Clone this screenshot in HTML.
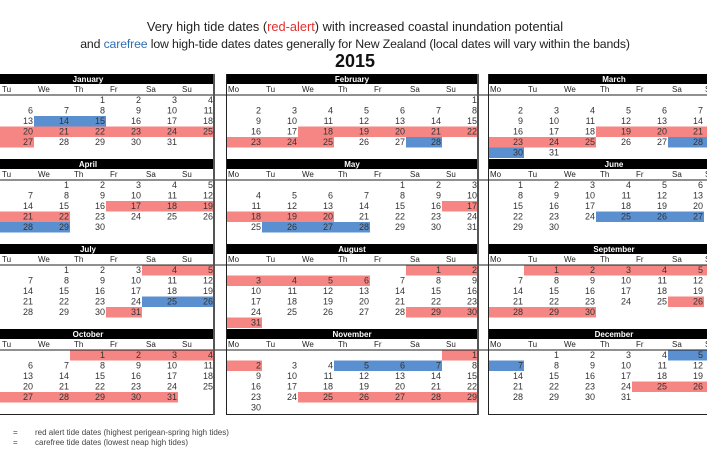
<!DOCTYPE html>
<html><head><meta charset="utf-8"><style>
html,body{margin:0;padding:0;background:#fff;width:710px;height:473px;overflow:hidden}
svg{display:block}
.n{font:9px "Liberation Sans",sans-serif;fill:#333;text-anchor:end}
.d{font:8px "Liberation Sans",sans-serif;fill:#222}
.m{font:bold 8px "Liberation Sans",sans-serif;fill:#fff;text-anchor:middle}
.r{fill:#f58683}.b{fill:#5b90d0}
</style></head><body>
<svg width="710" height="473" viewBox="0 0 710 473" xmlns="http://www.w3.org/2000/svg">
<text x="355" y="31" text-anchor="middle" style="font:12.8px 'Liberation Sans',sans-serif;fill:#222">Very high tide dates (<tspan fill="#e03030">red-alert</tspan>) with increased coastal inundation potential</text>
<text x="355" y="48" text-anchor="middle" style="font:12.3px 'Liberation Sans',sans-serif;fill:#222;letter-spacing:-0.15px">and <tspan fill="#2f6fb5">carefree</tspan> low high-tide dates dates generally for New Zealand (local dates will vary within the bands)</text>
<text x="355" y="67" text-anchor="middle" style="font:bold 18px 'Liberation Sans',sans-serif;fill:#111">2015</text>

<rect class="b" x="34" y="116" width="72" height="10.5"/>
<rect class="r" x="-38" y="126.5" width="252" height="10.5"/>
<rect class="r" x="-38" y="137" width="72" height="10.5"/>
<rect class="r" x="298" y="126.5" width="180" height="10.5"/>
<rect class="r" x="226" y="137" width="108" height="10.5"/>
<rect class="b" x="406" y="137" width="36" height="10.5"/>
<rect class="r" x="596" y="126.5" width="144" height="10.5"/>
<rect class="r" x="488" y="137" width="108" height="10.5"/>
<rect class="b" x="668" y="137" width="72" height="10.5"/>
<rect class="b" x="488" y="147.5" width="36" height="10.5"/>

<rect class="r" x="106" y="201" width="108" height="10.5"/>
<rect class="r" x="-38" y="211.5" width="108" height="10.5"/>
<rect class="b" x="-38" y="222" width="108" height="10.5"/>
<rect class="r" x="442" y="201" width="36" height="10.5"/>
<rect class="r" x="226" y="211.5" width="108" height="10.5"/>
<rect class="b" x="262" y="222" width="108" height="10.5"/>
<rect class="b" x="596" y="211.5" width="108" height="10.5"/>

<rect class="r" x="142" y="265" width="72" height="10.5"/>
<rect class="b" x="142" y="296.5" width="72" height="10.5"/>
<rect class="r" x="106" y="307" width="36" height="10.5"/>
<rect class="r" x="406" y="265" width="72" height="10.5"/>
<rect class="r" x="226" y="275.5" width="144" height="10.5"/>
<rect class="r" x="406" y="307" width="72" height="10.5"/>
<rect class="r" x="226" y="317.5" width="36" height="10.5"/>
<rect class="r" x="524" y="265" width="216" height="10.5"/>
<rect class="r" x="668" y="296.5" width="36" height="10.5"/>
<rect class="r" x="488" y="307" width="108" height="10.5"/>

<rect class="r" x="70" y="350" width="144" height="10.5"/>
<rect class="r" x="-38" y="392" width="216" height="10.5"/>
<rect class="r" x="442" y="350" width="36" height="10.5"/>
<rect class="r" x="226" y="360.5" width="36" height="10.5"/>
<rect class="b" x="334" y="360.5" width="108" height="10.5"/>
<rect class="r" x="298" y="392" width="180" height="10.5"/>
<rect class="b" x="668" y="350" width="72" height="10.5"/>
<rect class="b" x="488" y="360.5" width="36" height="10.5"/>
<rect class="r" x="632" y="381.5" width="108" height="10.5"/>

<g fill="#000">
<rect x="-38" y="74" width="252" height="10"/><rect x="226" y="74" width="252" height="10"/><rect x="488" y="74" width="252" height="10"/>
<rect x="-38" y="159" width="252" height="10"/><rect x="226" y="159" width="252" height="10"/><rect x="488" y="159" width="252" height="10"/>
<rect x="-38" y="244" width="252" height="10"/><rect x="226" y="244" width="252" height="10"/><rect x="488" y="244" width="252" height="10"/>
<rect x="-38" y="329" width="252" height="10"/><rect x="226" y="329" width="252" height="10"/><rect x="488" y="329" width="252" height="10"/>
</g>
<text class="m" x="88" y="82">January</text><text class="m" x="352" y="82">February</text><text class="m" x="614" y="82">March</text>
<text class="m" x="88" y="167">April</text><text class="m" x="352" y="167">May</text><text class="m" x="614" y="167">June</text>
<text class="m" x="88" y="252">July</text><text class="m" x="352" y="252">August</text><text class="m" x="614" y="252">September</text>
<text class="m" x="88" y="337">October</text><text class="m" x="352" y="337">November</text><text class="m" x="614" y="337">December</text>

<g class="d">
<text y="92"><tspan x="2">Tu</tspan><tspan x="38">We</tspan><tspan x="74">Th</tspan><tspan x="110">Fr</tspan><tspan x="146">Sa</tspan><tspan x="182">Su</tspan><tspan x="228">Mo</tspan><tspan x="266">Tu</tspan><tspan x="302">We</tspan><tspan x="338">Th</tspan><tspan x="374">Fr</tspan><tspan x="410">Sa</tspan><tspan x="446">Su</tspan><tspan x="490">Mo</tspan><tspan x="528">Tu</tspan><tspan x="564">We</tspan><tspan x="600">Th</tspan><tspan x="636">Fr</tspan><tspan x="672">Sa</tspan><tspan x="705">Su</tspan></text>
<text y="177"><tspan x="2">Tu</tspan><tspan x="38">We</tspan><tspan x="74">Th</tspan><tspan x="110">Fr</tspan><tspan x="146">Sa</tspan><tspan x="182">Su</tspan><tspan x="228">Mo</tspan><tspan x="266">Tu</tspan><tspan x="302">We</tspan><tspan x="338">Th</tspan><tspan x="374">Fr</tspan><tspan x="410">Sa</tspan><tspan x="446">Su</tspan><tspan x="490">Mo</tspan><tspan x="528">Tu</tspan><tspan x="564">We</tspan><tspan x="600">Th</tspan><tspan x="636">Fr</tspan><tspan x="672">Sa</tspan><tspan x="705">Su</tspan></text>
<text y="262"><tspan x="2">Tu</tspan><tspan x="38">We</tspan><tspan x="74">Th</tspan><tspan x="110">Fr</tspan><tspan x="146">Sa</tspan><tspan x="182">Su</tspan><tspan x="228">Mo</tspan><tspan x="266">Tu</tspan><tspan x="302">We</tspan><tspan x="338">Th</tspan><tspan x="374">Fr</tspan><tspan x="410">Sa</tspan><tspan x="446">Su</tspan><tspan x="490">Mo</tspan><tspan x="528">Tu</tspan><tspan x="564">We</tspan><tspan x="600">Th</tspan><tspan x="636">Fr</tspan><tspan x="672">Sa</tspan><tspan x="705">Su</tspan></text>
<text y="347"><tspan x="2">Tu</tspan><tspan x="38">We</tspan><tspan x="74">Th</tspan><tspan x="110">Fr</tspan><tspan x="146">Sa</tspan><tspan x="182">Su</tspan><tspan x="228">Mo</tspan><tspan x="266">Tu</tspan><tspan x="302">We</tspan><tspan x="338">Th</tspan><tspan x="374">Fr</tspan><tspan x="410">Sa</tspan><tspan x="446">Su</tspan><tspan x="490">Mo</tspan><tspan x="528">Tu</tspan><tspan x="564">We</tspan><tspan x="600">Th</tspan><tspan x="636">Fr</tspan><tspan x="672">Sa</tspan><tspan x="705">Su</tspan></text>
</g>

<g stroke="#222" stroke-width="1">
<line x1="0" y1="95" x2="710" y2="95"/><line x1="0" y1="180" x2="710" y2="180"/><line x1="0" y1="265" x2="710" y2="265"/><line x1="0" y1="350" x2="710" y2="350"/>
<line x1="0" y1="414.5" x2="214" y2="414.5"/><line x1="226" y1="414.5" x2="478" y2="414.5"/><line x1="488" y1="414.5" x2="710" y2="414.5"/>
<line x1="226.5" y1="74" x2="226.5" y2="415"/><line x1="488.5" y1="74" x2="488.5" y2="415"/>
</g>
<g stroke="#555" stroke-width="2">
<line x1="214" y1="74" x2="214" y2="415"/><line x1="478" y1="74" x2="478" y2="415"/>
</g>

<g class="n">
<text y="103"><tspan x="105">1</tspan><tspan x="141">2</tspan><tspan x="177">3</tspan><tspan x="213">4</tspan><tspan x="477">1</tspan><tspan x="739">1</tspan></text>
<text y="113.5"><tspan x="33">6</tspan><tspan x="69">7</tspan><tspan x="105">8</tspan><tspan x="141">9</tspan><tspan x="177">10</tspan><tspan x="213">11</tspan><tspan x="261">2</tspan><tspan x="297">3</tspan><tspan x="333">4</tspan><tspan x="369">5</tspan><tspan x="405">6</tspan><tspan x="441">7</tspan><tspan x="477">8</tspan><tspan x="523">2</tspan><tspan x="559">3</tspan><tspan x="595">4</tspan><tspan x="631">5</tspan><tspan x="667">6</tspan><tspan x="703">7</tspan></text>
<text y="124"><tspan x="33">13</tspan><tspan x="69">14</tspan><tspan x="105">15</tspan><tspan x="141">16</tspan><tspan x="177">17</tspan><tspan x="213">18</tspan><tspan x="261">9</tspan><tspan x="297">10</tspan><tspan x="333">11</tspan><tspan x="369">12</tspan><tspan x="405">13</tspan><tspan x="441">14</tspan><tspan x="477">15</tspan><tspan x="523">9</tspan><tspan x="559">10</tspan><tspan x="595">11</tspan><tspan x="631">12</tspan><tspan x="667">13</tspan><tspan x="703">14</tspan></text>
<text y="134.5"><tspan x="33">20</tspan><tspan x="69">21</tspan><tspan x="105">22</tspan><tspan x="141">23</tspan><tspan x="177">24</tspan><tspan x="213">25</tspan><tspan x="261">16</tspan><tspan x="297">17</tspan><tspan x="333">18</tspan><tspan x="369">19</tspan><tspan x="405">20</tspan><tspan x="441">21</tspan><tspan x="477">22</tspan><tspan x="523">16</tspan><tspan x="559">17</tspan><tspan x="595">18</tspan><tspan x="631">19</tspan><tspan x="667">20</tspan><tspan x="703">21</tspan></text>
<text y="145"><tspan x="33">27</tspan><tspan x="69">28</tspan><tspan x="105">29</tspan><tspan x="141">30</tspan><tspan x="177">31</tspan><tspan x="261">23</tspan><tspan x="297">24</tspan><tspan x="333">25</tspan><tspan x="369">26</tspan><tspan x="405">27</tspan><tspan x="441">28</tspan><tspan x="523">23</tspan><tspan x="559">24</tspan><tspan x="595">25</tspan><tspan x="631">26</tspan><tspan x="667">27</tspan><tspan x="703">28</tspan></text>
<text y="155.5"><tspan x="523">30</tspan><tspan x="559">31</tspan></text>

<text y="188"><tspan x="69">1</tspan><tspan x="105">2</tspan><tspan x="141">3</tspan><tspan x="177">4</tspan><tspan x="213">5</tspan><tspan x="405">1</tspan><tspan x="441">2</tspan><tspan x="477">3</tspan><tspan x="523">1</tspan><tspan x="559">2</tspan><tspan x="595">3</tspan><tspan x="631">4</tspan><tspan x="667">5</tspan><tspan x="703">6</tspan></text>
<text y="198.5"><tspan x="33">7</tspan><tspan x="69">8</tspan><tspan x="105">9</tspan><tspan x="141">10</tspan><tspan x="177">11</tspan><tspan x="213">12</tspan><tspan x="261">4</tspan><tspan x="297">5</tspan><tspan x="333">6</tspan><tspan x="369">7</tspan><tspan x="405">8</tspan><tspan x="441">9</tspan><tspan x="477">10</tspan><tspan x="523">8</tspan><tspan x="559">9</tspan><tspan x="595">10</tspan><tspan x="631">11</tspan><tspan x="667">12</tspan><tspan x="703">13</tspan></text>
<text y="209"><tspan x="33">14</tspan><tspan x="69">15</tspan><tspan x="105">16</tspan><tspan x="141">17</tspan><tspan x="177">18</tspan><tspan x="213">19</tspan><tspan x="261">11</tspan><tspan x="297">12</tspan><tspan x="333">13</tspan><tspan x="369">14</tspan><tspan x="405">15</tspan><tspan x="441">16</tspan><tspan x="477">17</tspan><tspan x="523">15</tspan><tspan x="559">16</tspan><tspan x="595">17</tspan><tspan x="631">18</tspan><tspan x="667">19</tspan><tspan x="703">20</tspan></text>
<text y="219.5"><tspan x="33">21</tspan><tspan x="69">22</tspan><tspan x="105">23</tspan><tspan x="141">24</tspan><tspan x="177">25</tspan><tspan x="213">26</tspan><tspan x="261">18</tspan><tspan x="297">19</tspan><tspan x="333">20</tspan><tspan x="369">21</tspan><tspan x="405">22</tspan><tspan x="441">23</tspan><tspan x="477">24</tspan><tspan x="523">22</tspan><tspan x="559">23</tspan><tspan x="595">24</tspan><tspan x="631">25</tspan><tspan x="667">26</tspan><tspan x="703">27</tspan></text>
<text y="230"><tspan x="33">28</tspan><tspan x="69">29</tspan><tspan x="105">30</tspan><tspan x="261">25</tspan><tspan x="297">26</tspan><tspan x="333">27</tspan><tspan x="369">28</tspan><tspan x="405">29</tspan><tspan x="441">30</tspan><tspan x="477">31</tspan><tspan x="523">29</tspan><tspan x="559">30</tspan></text>

<text y="273"><tspan x="69">1</tspan><tspan x="105">2</tspan><tspan x="141">3</tspan><tspan x="177">4</tspan><tspan x="213">5</tspan><tspan x="441">1</tspan><tspan x="477">2</tspan><tspan x="559">1</tspan><tspan x="595">2</tspan><tspan x="631">3</tspan><tspan x="667">4</tspan><tspan x="703">5</tspan></text>
<text y="283.5"><tspan x="33">7</tspan><tspan x="69">8</tspan><tspan x="105">9</tspan><tspan x="141">10</tspan><tspan x="177">11</tspan><tspan x="213">12</tspan><tspan x="261">3</tspan><tspan x="297">4</tspan><tspan x="333">5</tspan><tspan x="369">6</tspan><tspan x="405">7</tspan><tspan x="441">8</tspan><tspan x="477">9</tspan><tspan x="523">7</tspan><tspan x="559">8</tspan><tspan x="595">9</tspan><tspan x="631">10</tspan><tspan x="667">11</tspan><tspan x="703">12</tspan></text>
<text y="294"><tspan x="33">14</tspan><tspan x="69">15</tspan><tspan x="105">16</tspan><tspan x="141">17</tspan><tspan x="177">18</tspan><tspan x="213">19</tspan><tspan x="261">10</tspan><tspan x="297">11</tspan><tspan x="333">12</tspan><tspan x="369">13</tspan><tspan x="405">14</tspan><tspan x="441">15</tspan><tspan x="477">16</tspan><tspan x="523">14</tspan><tspan x="559">15</tspan><tspan x="595">16</tspan><tspan x="631">17</tspan><tspan x="667">18</tspan><tspan x="703">19</tspan></text>
<text y="304.5"><tspan x="33">21</tspan><tspan x="69">22</tspan><tspan x="105">23</tspan><tspan x="141">24</tspan><tspan x="177">25</tspan><tspan x="213">26</tspan><tspan x="261">17</tspan><tspan x="297">18</tspan><tspan x="333">19</tspan><tspan x="369">20</tspan><tspan x="405">21</tspan><tspan x="441">22</tspan><tspan x="477">23</tspan><tspan x="523">21</tspan><tspan x="559">22</tspan><tspan x="595">23</tspan><tspan x="631">24</tspan><tspan x="667">25</tspan><tspan x="703">26</tspan></text>
<text y="315"><tspan x="33">28</tspan><tspan x="69">29</tspan><tspan x="105">30</tspan><tspan x="141">31</tspan><tspan x="261">24</tspan><tspan x="297">25</tspan><tspan x="333">26</tspan><tspan x="369">27</tspan><tspan x="405">28</tspan><tspan x="441">29</tspan><tspan x="477">30</tspan><tspan x="523">28</tspan><tspan x="559">29</tspan><tspan x="595">30</tspan></text>
<text y="325.5"><tspan x="261">31</tspan></text>

<text y="358"><tspan x="105">1</tspan><tspan x="141">2</tspan><tspan x="177">3</tspan><tspan x="213">4</tspan><tspan x="477">1</tspan><tspan x="559">1</tspan><tspan x="595">2</tspan><tspan x="631">3</tspan><tspan x="667">4</tspan><tspan x="703">5</tspan></text>
<text y="368.5"><tspan x="33">6</tspan><tspan x="69">7</tspan><tspan x="105">8</tspan><tspan x="141">9</tspan><tspan x="177">10</tspan><tspan x="213">11</tspan><tspan x="261">2</tspan><tspan x="297">3</tspan><tspan x="333">4</tspan><tspan x="369">5</tspan><tspan x="405">6</tspan><tspan x="441">7</tspan><tspan x="477">8</tspan><tspan x="523">7</tspan><tspan x="559">8</tspan><tspan x="595">9</tspan><tspan x="631">10</tspan><tspan x="667">11</tspan><tspan x="703">12</tspan></text>
<text y="379"><tspan x="33">13</tspan><tspan x="69">14</tspan><tspan x="105">15</tspan><tspan x="141">16</tspan><tspan x="177">17</tspan><tspan x="213">18</tspan><tspan x="261">9</tspan><tspan x="297">10</tspan><tspan x="333">11</tspan><tspan x="369">12</tspan><tspan x="405">13</tspan><tspan x="441">14</tspan><tspan x="477">15</tspan><tspan x="523">14</tspan><tspan x="559">15</tspan><tspan x="595">16</tspan><tspan x="631">17</tspan><tspan x="667">18</tspan><tspan x="703">19</tspan></text>
<text y="389.5"><tspan x="33">20</tspan><tspan x="69">21</tspan><tspan x="105">22</tspan><tspan x="141">23</tspan><tspan x="177">24</tspan><tspan x="213">25</tspan><tspan x="261">16</tspan><tspan x="297">17</tspan><tspan x="333">18</tspan><tspan x="369">19</tspan><tspan x="405">20</tspan><tspan x="441">21</tspan><tspan x="477">22</tspan><tspan x="523">21</tspan><tspan x="559">22</tspan><tspan x="595">23</tspan><tspan x="631">24</tspan><tspan x="667">25</tspan><tspan x="703">26</tspan></text>
<text y="400"><tspan x="33">27</tspan><tspan x="69">28</tspan><tspan x="105">29</tspan><tspan x="141">30</tspan><tspan x="177">31</tspan><tspan x="261">23</tspan><tspan x="297">24</tspan><tspan x="333">25</tspan><tspan x="369">26</tspan><tspan x="405">27</tspan><tspan x="441">28</tspan><tspan x="477">29</tspan><tspan x="523">28</tspan><tspan x="559">29</tspan><tspan x="595">30</tspan><tspan x="631">31</tspan></text>
<text y="410.5"><tspan x="261">30</tspan></text>
</g>

<rect x="707" y="0" width="3" height="473" fill="#fff"/>

<g style="font:8px 'Liberation Sans',sans-serif;fill:#444">
<text x="13" y="435">=</text><text x="35" y="435">red alert tide dates (highest perigean-spring high tides)</text>
<text x="13" y="445">=</text><text x="35" y="445">carefree tide dates (lowest neap high tides)</text>
</g>
</svg>
</body></html>
